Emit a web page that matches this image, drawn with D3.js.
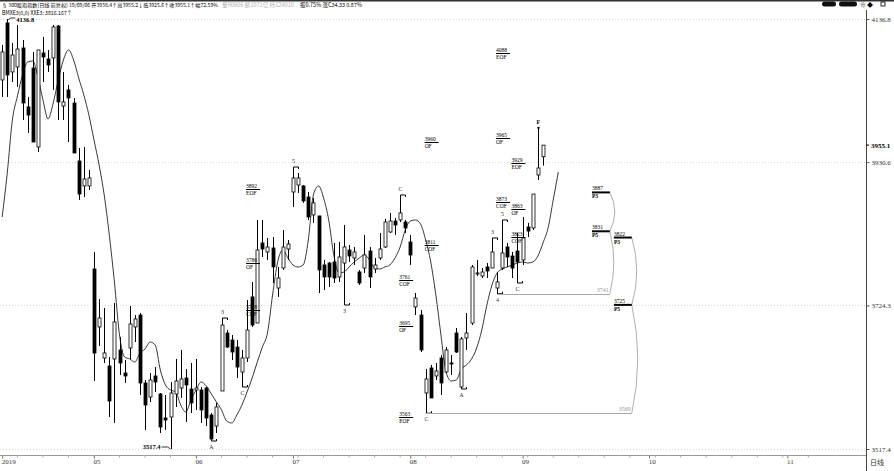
<!DOCTYPE html>
<html><head><meta charset="utf-8">
<script src="https://cdn.jsdelivr.net/npm/d3@7"></script>
<style>
html,body{margin:0;padding:0;background:#fff;overflow:hidden;}
svg{display:block;}
</style></head><body>
<svg id="c" width="894" height="471"></svg>
<script>
// ---------------- DATA ----------------
const openP = [4049.0,4131.1,4060.5,4067.7,4095.1,4010.1,4066.2,3952.4,4087.9,4079.2,4080.7,4126.7,4011.5,4034.6,4015.8,3932.3,3896.3,3896.3,
3776.7,3693.2,3648.5,3637.0,3647.1,3660.0,3626.9,3662.9,3693.2,3710.4,3612.5,3592.3,3622.6,3596.6,3562.1,3563.5,3596.6,3605.3,3619.7,3603.8,
3602.4,3602.4,3605.3,3566.4,3550.5,3601.0,3684.5,3674.4,3664.3,3628.3,3648.5,3736.4,3698.9,3814.2,3801.2,3807.0,3749.3,3778.2,3805.5,
3887.6,3897.7,3896.3,3880.4,3854.5,3853.1,3782.5,3785.3,3786.8,3765.2,3785.3,3804.1,3792.6,3772.4,3778.1,3802.6,3776.7,3792.6,3808.4,3830.0,3845.8,3847.3,3844.4,
3815.6,3722.0,3710.4,3598.1,3634.1,3622.6,3648.5,3628.3,3641.3,3684.5,3606.7,3677.3,3698.9,3769.5,3766.6,3779.6,3778.1,3749.3,3778.1,3808.4,3795.4,3802.6,
3789.7,3837.2,3835.8,3912.1,3938.4];
const highP = [4099.4,4136.8,4102.3,4128.2,4106.6,4024.5,4089.3,4092.2,4110.9,4092.2,4128.2,4128.2,4060.5,4041.8,4023.0,3951.0,3952.4,3919.3,
3801.2,3733.5,3720.5,3649.9,3727.7,3678.8,3645.6,3723.4,3710.4,3713.3,3616.8,3626.9,3635.5,3598.1,3595.2,3613.9,3647.1,3660.0,3632.6,3641.3,
3647.1,3606.7,3606.7,3569.3,3583.7,3706.1,3688.8,3681.6,3674.4,3660.0,3732.0,3758.0,3847.3,3847.3,3821.4,3822.8,3779.6,3832.9,3818.5,
3923.6,3915.0,3897.7,3887.6,3879.0,3853.1,3789.7,3786.8,3814.2,3815.6,3840.1,3811.3,3808.4,3775.3,3825.7,3808.4,3792.6,3828.6,3849.0,3857.4,3850.2,3883.3,3847.3,
3825.7,3742.1,3717.6,3632.7,3638.4,3641.3,3652.8,3664.3,3652.8,3691.7,3678.8,3713.3,3782.5,3789.7,3778.1,3785.3,3821.4,3772.4,3847.3,3814.2,3801.2,3828.6,
3851.6,3843.0,3884.7,3922.2,3955.2];
const lowP = [4024.5,4024.5,4046.1,4038.9,3991.3,3972.6,3959.6,3945.2,4046.1,4060.5,4034.6,3991.3,3991.3,3959.6,3943.8,3876.1,3880.4,3890.5,
3615.4,3665.8,3641.3,3563.5,3554.9,3624.0,3612.5,3647.1,3671.5,3595.2,3544.8,3585.1,3599.5,3540.5,3544.8,3517.4,3577.9,3590.9,3556.3,3569.3,
3573.6,3554.9,3550.5,3528.9,3540.5,3601.0,3662.9,3645.6,3619.7,3606.7,3642.7,3693.2,3698.9,3794.0,3789.7,3756.5,3736.4,3775.3,3789.7,
3866.0,3886.2,3871.8,3847.3,3843.0,3742.1,3746.5,3750.8,3756.5,3758.0,3724.8,3786.8,3782.5,3753.7,3770.9,3749.3,3770.9,3789.7,3807.0,3828.6,3825.7,3844.4,3828.6,
3782.5,3710.4,3657.1,3569.0,3590.9,3616.8,3595.2,3626.9,3624.0,3655.7,3603.8,3660.0,3696.0,3766.6,3763.7,3763.7,3778.1,3741.0,3775.3,3779.6,3763.7,3756.5,
3782.5,3822.8,3832.9,3904.9,3925.6];
const closeP = [4089.3,4056.2,4085.0,4093.6,4015.8,3998.5,3959.6,4092.2,4082.1,4070.6,4125.3,4017.3,4017.3,4023.0,3943.8,3884.7,3906.4,3907.8,
3655.7,3706.1,3655.7,3586.6,3700.4,3641.3,3622.6,3697.5,3704.7,3612.5,3580.8,3616.8,3613.9,3549.1,3559.2,3598.1,3615.4,3618.3,3609.6,3583.7,
3605.3,3573.6,3562.1,3531.8,3578.0,3696.0,3664.3,3657.1,3635.5,3648.5,3688.8,3696.0,3804.1,3805.5,3808.4,3779.6,3763.7,3808.4,3812.7,
3907.8,3907.8,3874.7,3851.6,3871.8,3775.3,3765.2,3765.2,3763.7,3794.0,3808.4,3795.4,3801.2,3756.5,3796.9,3765.2,3782.5,3805.5,3844.4,3845.8,3840.1,3857.4,3835.8,
3796.9,3734.9,3660.0,3618.2,3590.9,3629.8,3612.5,3660.0,3639.9,3657.1,3675.9,3684.5,3779.6,3771.0,3772.4,3773.8,3801.2,3758.0,3799.8,3794.0,3778.1,3786.8,
3821.4,3831.4,3884.7,3922.2,3955.1];
// displaced moving average (drawn 3 sessions ahead of price)
const maLine = [3851.6,3915.0,3991.3,4025.9,4056.2,4074.9,4076.3,4053.3,4020.1,3992.8,4015.8,4049.0,4077.8,4092.2,4077.8,4051.8,4027.4,3998.5,
3962.5,3926.5,3883.3,3825.7,3758.0,3681.6,3649.9,3647.1,3642.7,3655.7,3661.5,3671.5,3667.2,3631.2,3609.6,3602.4,3599.5,3580.8,3570.7,3588.0,
3602.4,3613.9,3608.2,3596.6,3585.1,3573.6,3557.7,3554.9,3566.4,3580.8,3599.5,3619.7,3642.7,3664.3,3684.5,3739.2,3786.8,3804.1,3792.6,
3782.5,3779.6,3782.5,3818.5,3883.3,3896.3,3879.0,3847.3,3796.9,3770.9,3772.4,3779.6,3786.8,3792.6,3796.9,3789.7,3778.1,3776.7,3779.6,3782.5,3792.6,3808.4,3832.9,
3845.8,3847.3,3841.5,3818.5,3786.8,3739.2,3681.6,3628.3,3615.4,3616.8,3632.7,3638.4,3647.1,3662.9,3688.8,3724.8,3753.7,3770.9,3776.7,3779.6,3782.5,3785.3,
3786.8,3785.3,3786.8,3795.4,3814.2,3835.8,3876.1,3916.4];

const xTickIdx    = [0, 18, 38, 57, 80, 102, 126.8, 153.9];
const xTickLabels = ["2019","05","06","07","08","09","10","11"];
const yTickValues = [4136.8, 3930.6, 3724.3, 3517.4];
const lastPrice = 3955.1;

// target labels: price, code, session index
const tgtPrice = [4088,3965,3929,3873,3863,3823,3960,3811,3761,3695,3563,3892,3786,3718];
const tgtCode  = ["EOF","OF","EOF","COF","OF","COF","OF","COF","COF","OF","EOF","EOF","OF","COF"];
const tgtIdx   = [97,97,100,97,100,100,83,83,78,78,78,48,48,48];

// projection labels
const projPrice = [3887,3831,3822,3725];
const projCode  = ["P3","P5","P3","P5"];
const projIdx   = [115.6,115.6,119.9,119.9];

// wave marks: text, session, at high (1) or low (0)
const waveText = ["A","3","C","5","3","C","C","A","3","4","5","C"];
const waveIdx  = [41,43,47,57,67,78,83,90,96,97,98,101];
const waveHigh = [0,1,0,1,0,1,0,0,1,0,1,0];

const extremeHi = {idx:1, price:4136.8};
const extremeLo = {idx:33, price:3517.4};
const fMark = {idx:105, price:3980};
const guideLines = [{from:97, price:3741, to:115.6+3.5}, {from:83, price:3569, to:119.9+3.5}];

const headerMain = "§ 300股指指数(日线 前复权) 19/09/06 开3938.4↑高3955.2↓低3925.6↑收3955.1↑幅72.59%";
const headerGrey = "量90606 额1071亿 持124010";
const headerTail = "振0.75% 涨C34.33 0.87%";
const headerLine2 = "BMXE3(0,0) XXE3: 3816.167↑";

// ---------------- DRAW ----------------
const svg = d3.select("#c");
const W = 894, H = 471;
const x = d3.scaleLinear().domain([0,106]).range([2.16,543]);
const y = d3.scaleLinear().domain([3517.4,4136.8]).range([449,19]);
const numFont = "'Liberation Serif','DejaVu Serif',serif";
const cjkFont = "'Noto Sans CJK SC',sans-serif";

svg.append("rect").attr("width",W).attr("height",H).attr("fill","#fff");
svg.append("rect").attr("x",0).attr("y",0).attr("width",W).attr("height",1.5).attr("fill","#333");

// grid
svg.append("g").selectAll("line").data(yTickValues).join("line")
  .attr("x1",0).attr("x2",866).attr("y1",d=>Math.round(y(d))+0.5).attr("y2",d=>Math.round(y(d))+0.5)
  .attr("stroke","#d8d8d8").attr("stroke-dasharray","1,2");

// axes
const axR = svg.append("g").attr("transform","translate(866.5,0)")
  .call(d3.axisRight(y).tickValues(yTickValues).tickFormat(d3.format(".1f")).tickSize(3).tickPadding(2));
axR.select(".domain").remove();
axR.selectAll("text").attr("font-family",numFont).attr("font-size",7).attr("fill","#333");
axR.selectAll("line").attr("stroke","#555");
svg.append("line").attr("x1",866.5).attr("x2",866.5).attr("y1",10).attr("y2",H).attr("stroke","#444");
svg.append("text").attr("x",871).attr("y",y(lastPrice)+2.5).attr("font-family",numFont)
  .attr("font-size",7).attr("font-weight","bold").attr("fill","#000").text(lastPrice.toFixed(1));
svg.append("line").attr("x1",866).attr("x2",869).attr("y1",y(lastPrice)).attr("y2",y(lastPrice)).attr("stroke","#000");

const axB = svg.append("g").attr("transform","translate(0,455.5)")
  .call(d3.axisBottom(x).tickValues(xTickIdx).tickFormat((d,i)=>xTickLabels[i]).tickSize(3).tickPadding(1));
axB.select(".domain").remove();
axB.selectAll("text").attr("font-family",numFont).attr("font-size",7).attr("fill","#333").attr("text-anchor","start").attr("dx",-1);
axB.selectAll("line").attr("stroke","#777");
svg.append("line").attr("x1",0).attr("x2",866).attr("y1",455.5).attr("y2",455.5).attr("stroke","#999");
svg.append("g").selectAll("line").data(d3.range(3,160,5)).join("line")
  .attr("x1",d=>x(d)).attr("x2",d=>x(d)).attr("y1",455.5).attr("y2",457.5).attr("stroke","#aaa");
svg.append("text").attr("x",870).attr("y",465).attr("font-family",cjkFont).attr("font-size",7).attr("fill","#333").text("日线");

// MA line
svg.append("path").datum(maLine).attr("fill","none").attr("stroke","#222").attr("stroke-width",0.9)
  .attr("d",d3.line().x((d,i)=>x(i)).y(d=>y(d)).curve(d3.curveMonotoneX));

// candles
const idx = d3.range(openP.length);
const cg = svg.append("g");
cg.selectAll("line").data(idx).join("line")
  .attr("x1",i=>Math.round(x(i))+0.5).attr("x2",i=>Math.round(x(i))+0.5)
  .attr("y1",i=>y(highP[i])).attr("y2",i=>y(lowP[i])).attr("stroke","#000").attr("stroke-width",1);
cg.selectAll("rect").data(idx).join("rect")
  .attr("x",i=>Math.round(x(i))-1)
  .attr("y",i=>y(Math.max(openP[i],closeP[i])))
  .attr("width",3)
  .attr("height",i=>Math.max(1,Math.abs(y(openP[i])-y(closeP[i]))))
  .attr("fill",i=>closeP[i]>=openP[i]?"#fff":"#000")
  .attr("stroke","#000").attr("stroke-width",0.8);

// extreme labels
svg.append("path").attr("fill","none").attr("stroke","#000").attr("stroke-width",0.8)
  .attr("d",`M${x(extremeHi.idx)+1},${y(extremeHi.price)+1}L${x(extremeHi.idx)+3},${y(extremeHi.price)-1}H${x(extremeHi.idx)+8}`);
svg.append("text").attr("x",x(extremeHi.idx)+9).attr("y",y(extremeHi.price)+3).attr("font-family",numFont).attr("font-size",6.5).attr("font-weight","bold").text(extremeHi.price.toFixed(1));
svg.append("path").attr("fill","none").attr("stroke","#000").attr("stroke-width",0.8)
  .attr("d",`M${x(extremeLo.idx)-9},${y(extremeLo.price)-2}H${x(extremeLo.idx)-3}L${x(extremeLo.idx)},${y(extremeLo.price)}`);
svg.append("text").attr("x",x(extremeLo.idx)-10).attr("y",y(extremeLo.price)).attr("text-anchor","end").attr("font-family",numFont).attr("font-size",6.5).attr("font-weight","bold").text(extremeLo.price.toFixed(1));

// wave marks
waveText.forEach((t,k)=>{
  const i = waveIdx[k], hi = waveHigh[k]===1;
  const px = Math.round(x(i))+0.5, py = hi ? y(highP[i]) : y(lowP[i]);
  const tick = hi ? 2 : -2;
  svg.append("path").attr("fill","none").attr("stroke","#000").attr("stroke-width",1)
    .attr("d",`M${px},${py}H${px+5}v${tick}`);
  svg.append("text").attr("x",px).attr("y",hi ? py-4 : py+8).attr("text-anchor","middle")
    .attr("font-family",numFont).attr("font-size",6).attr("fill","#333").text(t);
});
svg.append("line").attr("x1",Math.round(x(fMark.idx))+0.5).attr("x2",Math.round(x(fMark.idx))+0.5)
  .attr("y1",y(fMark.price)).attr("y2",y(highP[fMark.idx])).attr("stroke","#000");
svg.append("circle").attr("cx",Math.round(x(fMark.idx))+0.5).attr("cy",y(fMark.price)).attr("r",1.2).attr("fill","#000");
svg.append("text").attr("x",x(fMark.idx)+0.5).attr("y",y(fMark.price)-4).attr("text-anchor","middle")
  .attr("font-family",numFont).attr("font-size",6).attr("font-weight","bold").text("F");

// guide lines (grey)
guideLines.forEach(g=>{
  svg.append("line").attr("x1",x(g.from)).attr("x2",x(g.to)).attr("y1",Math.round(y(g.price))+0.5).attr("y2",Math.round(y(g.price))+0.5)
    .attr("stroke","#aaa").attr("stroke-width",1);
  svg.append("text").attr("x",x(g.to)-1).attr("y",y(g.price)-2).attr("text-anchor","end")
    .attr("font-family",numFont).attr("font-size",6).attr("fill","#999").text(g.price);
});
function arc(i, p1, p2, bulge){
  const x0 = x(i), y1 = y(p1), y2 = y(p2);
  return `M${x0},${y1}Q${x0+bulge},${(y1+y2)/2} ${x0},${y2}`;
}
const arcs = [[115.6+3.5,3887,3831,10],[115.6+3.5,3831,3741,8],[119.9+3.5,3822,3725,10],[119.9+3.5,3725,3569,12]];
svg.append("g").selectAll("path").data(arcs).join("path")
  .attr("d",a=>arc(a[0],a[1],a[2],a[3])).attr("fill","none").attr("stroke","#999").attr("stroke-width",0.8);

// target labels
tgtPrice.forEach((p,k)=>{
  const px = x(tgtIdx[k]) - 1, py = Math.round(y(p))+0.5;
  svg.append("line").attr("x1",px).attr("x2",px+14).attr("y1",py).attr("y2",py).attr("stroke","#000").attr("stroke-width",1);
  svg.append("text").attr("x",px).attr("y",py-1.5).attr("font-family",numFont).attr("font-size",5.5).attr("fill","#000").text(p);
  svg.append("text").attr("x",px).attr("y",py+5.5).attr("font-family",numFont).attr("font-size",5.5).attr("fill","#000").text(tgtCode[k]);
});
projPrice.forEach((p,k)=>{
  const px = x(projIdx[k]), py = y(p);
  svg.append("line").attr("x1",px).attr("x2",x(projIdx[k]+3.5)).attr("y1",py).attr("y2",py).attr("stroke","#000").attr("stroke-width",2);
  svg.append("text").attr("x",px).attr("y",py-2).attr("font-family",numFont).attr("font-size",5.5).text(p);
  svg.append("text").attr("x",px).attr("y",py+6).attr("font-family",numFont).attr("font-size",5.5).attr("font-weight","bold").text(projCode[k]);
});

// header (sizes chosen so each piece fits its slot)
function htext(s, x0, y0, size, len, fill){
  svg.append("text").attr("x",x0).attr("y",y0).attr("font-family",cjkFont).attr("font-size",size)
    .attr("fill",fill).attr("textLength",len).attr("lengthAdjust","spacingAndGlyphs").text(s);
}
htext(headerMain, 2, 7, 5.1, 216, "#000");
htext(headerGrey, 222, 7, 5.5, 72, "#b0b0b0");
htext(headerTail, 300, 7, 5.5, 62, "#000");
htext(headerLine2, 2, 14.5, 5.5, 70, "#000");

svg.append("rect").attr("x",822).attr("y",1.5).attr("width",14).attr("height",5).attr("rx",2.5).attr("fill","#111");
svg.append("rect").attr("x",839).attr("y",1.5).attr("width",18).attr("height",5).attr("rx",2.5).attr("fill","#111");
svg.append("text").attr("x",860).attr("y",7).attr("font-size",6).attr("font-family",cjkFont).attr("fill","#555").text("⊕");
svg.append("text").attr("x",867).attr("y",7).attr("font-size",6).attr("font-family",cjkFont).attr("fill","#000").text("◆");
svg.append("rect").attr("x",881).attr("y",2).attr("width",4).attr("height",4).attr("fill","none").attr("stroke","#000").attr("stroke-width",0.8);
</script></body></html>
